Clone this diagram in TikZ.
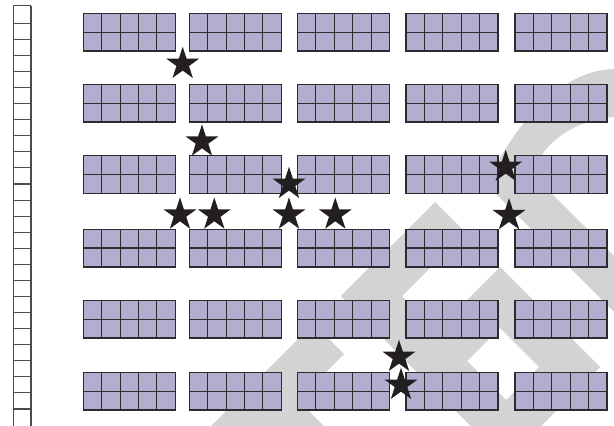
\documentclass[tikz,border=0pt]{standalone}
\definecolor{seat}{RGB}{177,174,208}
\definecolor{edgec}{RGB}{45,42,48}
\definecolor{wm}{RGB}{211,211,211}
\definecolor{starc}{RGB}{35,31,32}
\newcommand{\dpt}[2]{({(#1+#2)/2},{(#1-#2)/2})}
\tikzset{
  bigstar/.pic={\fill[starc] (-90:17.3) -- (-54:6.6) -- (-18:17.3) -- (18:6.6) -- (54:17.3) -- (90:6.6) -- (126:17.3) -- (162:6.6) -- (198:17.3) -- (234:6.6) -- cycle;},
  gridline/.style={edgec,line width=0.8pt},
  blockedge/.style={edgec,line width=1.05pt},
  stripline/.style={edgec!85,line width=0.8pt}
}
\begin{document}
\begin{tikzpicture}[x=0.75pt,y=-0.75pt]
\useasboundingbox (0,0) rectangle (614,425);
\clip (0,0) rectangle (614,425);
% watermark
\fill[wm] \dpt{637}{233} -- \dpt{698}{233} -- \dpt{698}{45} -- \dpt{637}{45} -- cycle;
\fill[wm] \dpt{637}{45} -- \dpt{637}{106} -- \dpt{1100}{106} -- \dpt{1100}{45} -- cycle;
\fill[wm,even odd rule] \dpt{767}{233} -- \dpt{967}{233} -- \dpt{967}{45} -- \dpt{767}{45} -- cycle
   \dpt{828}{172} -- \dpt{906}{172} -- \dpt{906}{106} -- \dpt{828}{106} -- cycle;
\fill[wm] \dpt{637}{-10} -- \dpt{698}{-10} -- \dpt{698}{-400} -- \dpt{637}{-400} -- cycle;
\fill[wm] \dpt{698}{-102} -- \dpt{698}{-163} -- \dpt{1000}{-163} -- \dpt{1000}{-102} -- cycle;
\fill[wm] (614,69) .. controls (565,70) and (525,115) .. (500,158)
   .. controls (488,178) and (486,186) .. (495,193) -- (640,338) -- (640,282)
   -- (538,180) .. controls (528,165) and (555,122) .. (614,117) -- cycle;
% left strip
\draw[stripline] (13.3,5.7) -- (13.3,430) (31,5.7) -- (31,430) (13.3,5.7) -- (31,5.7);
\foreach \k in {0,...,24} \draw[stripline] (13.3,{23.3+16.07*\k}) -- (31,{23.3+16.07*\k});
% blocks
\foreach \x in {83.3,189.3,297.5,406,515} {
  \foreach \y in {13.3,84.3,155.7,229.2,300.5,372.5} {
    \fill[seat] (\x,\y) rectangle ++(92,37.6);
    \draw[gridline] (\x,\y+18.8) -- ++(92,0);
    \foreach \k in {1,2,3,4} \draw[gridline] (\x+18.4*\k,\y) -- ++(0,37.6);
    \draw[blockedge] (\x,\y) rectangle ++(92,37.6);
  }
}
% stars
\pic at (182.7,64.0) {bigstar};
\pic at (202,141.7) {bigstar};
\pic at (289,184) {bigstar};
\pic at (180,214.7) {bigstar};
\pic at (214.3,214.7) {bigstar};
\pic at (289,214.7) {bigstar};
\pic at (335.3,214.7) {bigstar};
\pic at (505.7,167) {bigstar};
\pic at (509,215.3) {bigstar};
\pic at (399,357) {bigstar};
\pic at (401,385) {bigstar};
\end{tikzpicture}
\end{document}
